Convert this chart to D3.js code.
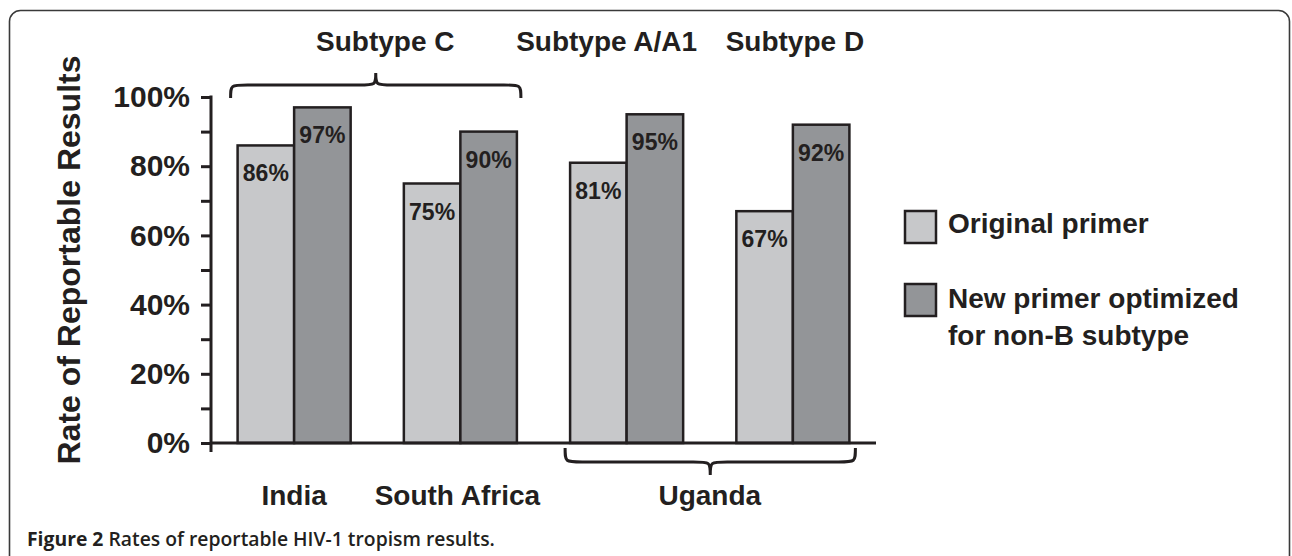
<!DOCTYPE html>
<html>
<head>
<meta charset="utf-8">
<script src="https://cdn.jsdelivr.net/npm/d3@7"></script>
<style>
  html, body { margin: 0; padding: 0; background: #fff; }
  svg { display: block; }
  .bold { font-family: "Liberation Sans", Arial, Helvetica, sans-serif; font-weight: bold; fill: #231f20; }
</style>
</head>
<body>
<svg id="chart" width="1292" height="556"></svg>
<script>
// ---- data ----
const groups = ["India", "South Africa", "Uganda A/A1", "Uganda D"];
const originalPrimer = [86, 75, 81, 67];
const newPrimer = [97, 90, 95, 92];
const seriesNames = ["Original primer", "New primer optimized for non-B subtype"];
const yTicks = [0, 10, 20, 30, 40, 50, 60, 70, 80, 90, 100];
const yTickLabels = ["0%", "", "20%", "", "40%", "", "60%", "", "80%", "", "100%"];
const countryLabels = [
  { text: "India", from: 0, to: 0 },
  { text: "South Africa", from: 1, to: 1 },
  { text: "Uganda", from: 2, to: 3 }
];
const subtypeLabels = [
  { text: "Subtype C", from: 0, to: 1 },
  { text: "Subtype A/A1", from: 2, to: 2 },
  { text: "Subtype D", from: 3, to: 3 }
];
const caption = { bold: "Figure 2", rest: " Rates of reportable HIV-1 tropism results." };

// ---- styles ----
const ink = "#231f20";
const colors = ["#c7c8ca", "#939598"];

const svg = d3.select("#chart");

// frame
svg.append("rect")
  .attr("x", 9.5).attr("y", 10.5)
  .attr("width", 1280).attr("height", 620)
  .attr("rx", 11).attr("ry", 11)
  .attr("fill", "none").attr("stroke", "#3a3a3a").attr("stroke-width", 1.6);

// scales
const x = d3.scaleBand().domain(groups).range([211, 876]).paddingInner(0.32).paddingOuter(0.16);
const y = d3.scaleLinear().domain([0, 100]).range([443, 97]);
const bw = x.bandwidth();
const sub = d3.scaleBand().domain([0, 1]).range([0, bw]);

// bars
const barData = [];
groups.forEach((g, i) => {
  barData.push({ g, s: 0, v: originalPrimer[i] });
  barData.push({ g, s: 1, v: newPrimer[i] });
});

svg.append("g").selectAll("rect").data(barData).join("rect")
  .attr("x", d => x(d.g) + sub(d.s))
  .attr("y", d => y(d.v))
  .attr("width", sub.bandwidth())
  .attr("height", d => y(0) - y(d.v))
  .attr("fill", d => colors[d.s])
  .attr("stroke", ink).attr("stroke-width", 2.5);

svg.append("g").selectAll("text").data(barData).join("text")
  .attr("class", "bold")
  .attr("x", d => x(d.g) + sub(d.s) + sub.bandwidth() / 2)
  .attr("y", d => y(d.v) + 36)
  .attr("text-anchor", "middle")
  .style("font-size", "23px")
  .text(d => d.v + "%");

// y axis
const yAxis = d3.axisLeft(y).tickValues(yTicks)
  .tickFormat((d, i) => yTickLabels[i]).tickSize(10).tickPadding(11);
const gy = svg.append("g").attr("transform", "translate(211,0)").call(yAxis);
gy.select(".domain").remove();
gy.selectAll(".tick line").attr("stroke", ink).attr("stroke-width", 3);
gy.selectAll(".tick text").attr("class", "bold")
  .style("font-size", "30px").attr("fill", ink);
svg.append("line").attr("x1", 211).attr("x2", 211).attr("y1", y(100) - 1.5).attr("y2", y(0) + 9)
  .attr("stroke", ink).attr("stroke-width", 3);

// x axis line
svg.append("line").attr("x1", x.range()[0]).attr("x2", x.range()[1])
  .attr("y1", y(0)).attr("y2", y(0))
  .attr("stroke", ink).attr("stroke-width", 3.2);

// y label
svg.append("text").attr("class", "bold")
  .attr("transform", "translate(80,260) rotate(-90)")
  .attr("text-anchor", "middle")
  .style("font-size", "32px")
  .text("Rate of Reportable Results");

// braces
function brace(x1, x2, yEnd, yMid, yTip, r) {
  const xm = (x1 + x2) / 2;
  return `M${x1},${yEnd} C${x1},${yMid} ${x1},${yMid} ${x1 + r},${yMid} L${xm - r},${yMid} ` +
    `C${xm},${yMid} ${xm},${yMid} ${xm},${yTip} C${xm},${yMid} ${xm},${yMid} ${xm + r},${yMid} ` +
    `L${x2 - r},${yMid} C${x2},${yMid} ${x2},${yMid} ${x2},${yEnd}`;
}
const topX1 = x(groups[0]) - 7, topX2 = x(groups[1]) + bw + 4;
svg.append("path").attr("d", brace(topX1, topX2, 98, 85, 73, 17))
  .attr("fill", "none").attr("stroke", ink).attr("stroke-width", 3);
const botX1 = x(groups[2]) - 5, botX2 = x(groups[3]) + bw + 6;
svg.append("path").attr("d", brace(botX1, botX2, 448, 462, 475, 17))
  .attr("fill", "none").attr("stroke", ink).attr("stroke-width", 3);

// country labels
const labelShift = [0, -3, 0];
svg.append("g").selectAll("text").data(countryLabels).join("text")
  .attr("class", "bold")
  .attr("x", (d, i) => (x(groups[d.from]) + x(groups[d.to]) + bw) / 2 + labelShift[i])
  .attr("y", 505)
  .attr("text-anchor", "middle")
  .style("font-size", "28px")
  .text(d => d.text);

// subtype labels
const subShift = [8, -20, 2];
svg.append("g").selectAll("text").data(subtypeLabels).join("text")
  .attr("class", "bold")
  .attr("x", (d, i) => (x(groups[d.from]) + x(groups[d.to]) + bw) / 2 + subShift[i])
  .attr("y", 51)
  .attr("text-anchor", "middle")
  .style("font-size", "28px")
  .text(d => d.text);

// legend
const legend = svg.append("g").attr("transform", "translate(905,0)");
const legendY = [211, 284];
legend.selectAll("rect").data(seriesNames).join("rect")
  .attr("x", 0).attr("y", (d, i) => legendY[i])
  .attr("width", 31).attr("height", 32)
  .attr("fill", (d, i) => colors[i])
  .attr("stroke", ink).attr("stroke-width", 2.5);
const lt = legend.append("text").attr("class", "bold").style("font-size", "28px");
lt.append("tspan").attr("x", 43).attr("y", 233).text("Original primer");
lt.append("tspan").attr("x", 43).attr("y", 308).text("New primer optimized");
lt.append("tspan").attr("x", 43).attr("y", 345).text("for non-B subtype");

// caption
const cap = svg.append("text")
  .attr("x", 27).attr("y", 546)
  .style("font-family", "'Open Sans', 'Noto Sans', sans-serif")
  .style("font-size", "18px")
  .attr("fill", ink);
cap.append("tspan").style("font-weight", "bold").text(caption.bold);
cap.append("tspan").style("font-weight", "600").text(caption.rest);
const len = cap.node().getComputedTextLength();
cap.style("font-size", (18 * 468 / len) + "px");
</script>
</body>
</html>
